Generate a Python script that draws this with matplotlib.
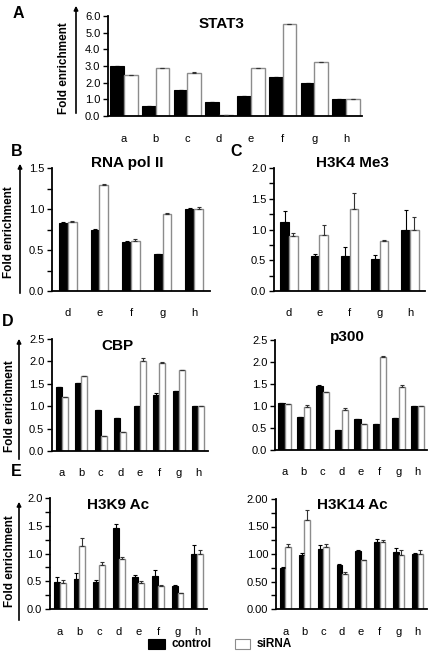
import numpy as np
import matplotlib
matplotlib.use("Agg")
import matplotlib.pyplot as plt
from matplotlib.ticker import MultipleLocator, FormatStrFormatter
from matplotlib.patches import Rectangle

plt.rcParams['font.family'] = ['Liberation Sans', 'DejaVu Sans']

# ---------------- data ----------------
cats8 = ['a', 'b', 'c', 'd', 'e', 'f', 'g', 'h']
cats5 = ['d', 'e', 'f', 'g', 'h']

stat3_ctrl = [3.0, 0.6, 1.55, 0.87, 1.22, 2.33, 1.97, 1.0]
stat3_sirna = [2.45, 2.9, 2.58, 0.06, 2.87, 5.5, 3.25, 1.0]
stat3_ctrl_err = [0, 0, 0.04, 0, 0, 0.04, 0, 0]
stat3_sirna_err = [0, 0, 0.04, 0, 0.04, 0, 0, 0]

pol2_ctrl = [0.83, 0.75, 0.60, 0.455, 1.0]
pol2_sirna = [0.84, 1.29, 0.61, 0.94, 1.0]
pol2_ctrl_err = [0.01, 0.01, 0.01, 0.0, 0.01]
pol2_sirna_err = [0.01, 0.01, 0.02, 0.01, 0.02]

h3k4_ctrl = [1.12, 0.57, 0.57, 0.52, 1.0]
h3k4_sirna = [0.90, 0.91, 1.34, 0.81, 1.0]
h3k4_ctrl_err = [0.18, 0.03, 0.14, 0.06, 0.32]
h3k4_sirna_err = [0.05, 0.17, 0.25, 0.02, 0.21]

cbp_ctrl = [1.43, 1.52, 0.92, 0.74, 1.0, 1.26, 1.34, 1.0]
cbp_sirna = [1.20, 1.68, 0.33, 0.43, 2.0, 1.97, 1.80, 1.0]
cbp_ctrl_err = [0, 0, 0, 0, 0, 0.03, 0, 0]
cbp_sirna_err = [0, 0, 0, 0, 0.07, 0.02, 0, 0]

p300_ctrl = [1.06, 0.76, 1.45, 0.46, 0.71, 0.58, 0.72, 1.0]
p300_sirna = [1.05, 0.98, 1.31, 0.91, 0.60, 2.11, 1.43, 1.0]
p300_ctrl_err = [0, 0, 0.03, 0, 0, 0, 0, 0]
p300_sirna_err = [0, 0.04, 0, 0.04, 0, 0.02, 0.05, 0]

h3k9_ctrl = [0.48, 0.54, 0.48, 1.46, 0.57, 0.60, 0.41, 1.0]
h3k9_sirna = [0.47, 1.13, 0.80, 0.90, 0.47, 0.42, 0.28, 1.0]
h3k9_ctrl_err = [0.10, 0.11, 0.04, 0.08, 0.05, 0.11, 0.02, 0.16]
h3k9_sirna_err = [0.05, 0.15, 0.05, 0.03, 0.04, 0.01, 0.01, 0.07]

h3k14_ctrl = [0.75, 0.99, 1.10, 0.80, 1.06, 1.21, 1.04, 1.0]
h3k14_sirna = [1.13, 1.61, 1.13, 0.64, 0.89, 1.21, 0.99, 1.0]
h3k14_ctrl_err = [0.02, 0.03, 0.07, 0.02, 0.02, 0.07, 0.07, 0.02]
h3k14_sirna_err = [0.05, 0.19, 0.06, 0.03, 0.01, 0.04, 0.08, 0.07]

# ---------------- layout ----------------
W, H = 430, 654
fig = plt.figure(figsize=(W / 100, H / 100), dpi=100)


def px_axes(L, T, R, B):
    return fig.add_axes([L / W, (H - B) / H, (R - L) / W, (B - T) / H])


def panel(box, cats, ctrl, sirna, cerr, serr, ymax, major, minor, fmt, title,
          title_y, width, pad=12):
    ax = px_axes(*box)
    x = np.arange(len(cats))
    ax.bar(x - width / 2, ctrl, width, color='black', edgecolor='black',
           linewidth=0.8, zorder=2)
    ax.bar(x + width / 2, sirna, width, color='white', edgecolor='#8c8c8c',
           linewidth=1.0, zorder=2)
    ax.errorbar(x - width / 2, ctrl, yerr=[np.zeros(len(cats)), cerr],
                fmt='none', ecolor='black', elinewidth=0.8, capsize=1.6,
                capthick=0.8, zorder=3)
    ax.errorbar(x + width / 2, sirna, yerr=[np.zeros(len(cats)), serr],
                fmt='none', ecolor='#333333', elinewidth=0.8, capsize=1.6,
                capthick=0.8, zorder=3)
    ax.set_xlim(-0.5, len(cats) - 0.5)
    ax.set_ylim(0, ymax)
    ax.set_xticks(x)
    ax.set_xticklabels(cats, fontsize=8)
    ax.tick_params(axis='x', length=0, pad=pad)
    ax.yaxis.set_major_locator(MultipleLocator(major))
    ax.yaxis.set_major_formatter(FormatStrFormatter(fmt))
    if minor:
        ax.yaxis.set_minor_locator(MultipleLocator(minor))
    ax.tick_params(axis='y', which='both', direction='out', length=3.5,
                   width=1.0, labelsize=8, pad=2)
    for s in ['top', 'right']:
        ax.spines[s].set_visible(False)
    for s in ['left', 'bottom']:
        ax.spines[s].set_linewidth(1.3)
    ax.set_facecolor('none')
    fig.text(title[1] / W, (H - title_y) / H, title[0], fontsize=11,
             fontweight='bold', ha='center', va='center')
    return ax


panel((108, 16, 362, 116), cats8, stat3_ctrl, stat3_sirna, stat3_ctrl_err,
      stat3_sirna_err, 6.0, 1.0, None, '%.1f', ('STAT3', 222), 24, 0.43,
      pad=13)
panel((52, 168, 210, 291), cats5, pol2_ctrl, pol2_sirna, pol2_ctrl_err,
      pol2_sirna_err, 1.5, 0.5, 0.25, '%.1f', ('RNA pol II', 127), 163, 0.28)
panel((274, 168, 425, 291), cats5, h3k4_ctrl, h3k4_sirna, h3k4_ctrl_err,
      h3k4_sirna_err, 2.0, 0.5, 0.25, '%.1f', ('H3K4 Me3', 352), 163, 0.29)
panel((52, 339, 208, 451), cats8, cbp_ctrl, cbp_sirna, cbp_ctrl_err,
      cbp_sirna_err, 2.5, 0.5, None, '%.1f', ('CBP', 117), 346, 0.32)
panel((275, 340, 427, 450), cats8, p300_ctrl, p300_sirna, p300_ctrl_err,
      p300_sirna_err, 2.5, 0.5, None, '%.1f', ('p300', 347), 337, 0.32)
panel((50, 498, 207, 609), cats8, h3k9_ctrl, h3k9_sirna, h3k9_ctrl_err,
      h3k9_sirna_err, 2.0, 0.5, 0.25, '%.1f', ('H3K9 Ac', 118), 505, 0.30,
      pad=13)
panel((276, 499, 427, 609), cats8, h3k14_ctrl, h3k14_sirna, h3k14_ctrl_err,
      h3k14_sirna_err, 2.0, 0.5, 0.25, '%.2f', ('H3K14 Ac', 352), 505, 0.29,
      pad=13)


# ---------------- y-labels with arrows ----------------
def ylab(x_arrow, y_bot, y_top, tx, ty):
    fig.add_artist(matplotlib.patches.FancyArrowPatch(
        (x_arrow / W, (H - y_bot) / H), (x_arrow / W, (H - y_top) / H),
        transform=fig.transFigure, arrowstyle='-|>', mutation_scale=6,
        linewidth=1.2, color='black'))
    fig.text(tx / W, (H - ty) / H, 'Fold enrichment', rotation=90,
             fontsize=8.5, fontweight='bold', ha='center', va='center')


ylab(76, 116, 3, 64, 68)
ylab(20, 296, 161, 9, 232)
ylab(19, 462, 336, 10, 406)
ylab(19, 623, 499, 10, 561)

# ---------------- panel letters ----------------
for letter, lx, ly in [('A', 18, 14), ('B', 17, 151), ('C', 236, 151),
                       ('D', 8, 322), ('E', 16, 471)]:
    fig.text(lx / W, (H - ly) / H, letter, fontsize=11.5, fontweight='bold',
             ha='center', va='center')

# ---------------- legend ----------------
fig.add_artist(Rectangle((148 / W, (H - 649) / H), 17 / W, 10 / H,
                         transform=fig.transFigure, facecolor='black',
                         edgecolor='black', linewidth=0.8))
fig.text(172 / W, (H - 644) / H, 'control', fontsize=8.5, fontweight='bold',
         ha='left', va='center')
fig.add_artist(Rectangle((235 / W, (H - 649) / H), 15 / W, 10 / H,
                         transform=fig.transFigure, facecolor='white',
                         edgecolor='#8c8c8c', linewidth=0.8))
fig.text(257 / W, (H - 644) / H, 'siRNA', fontsize=8.5, fontweight='bold',
         ha='left', va='center')

fig.savefig('out.png', dpi=100)
